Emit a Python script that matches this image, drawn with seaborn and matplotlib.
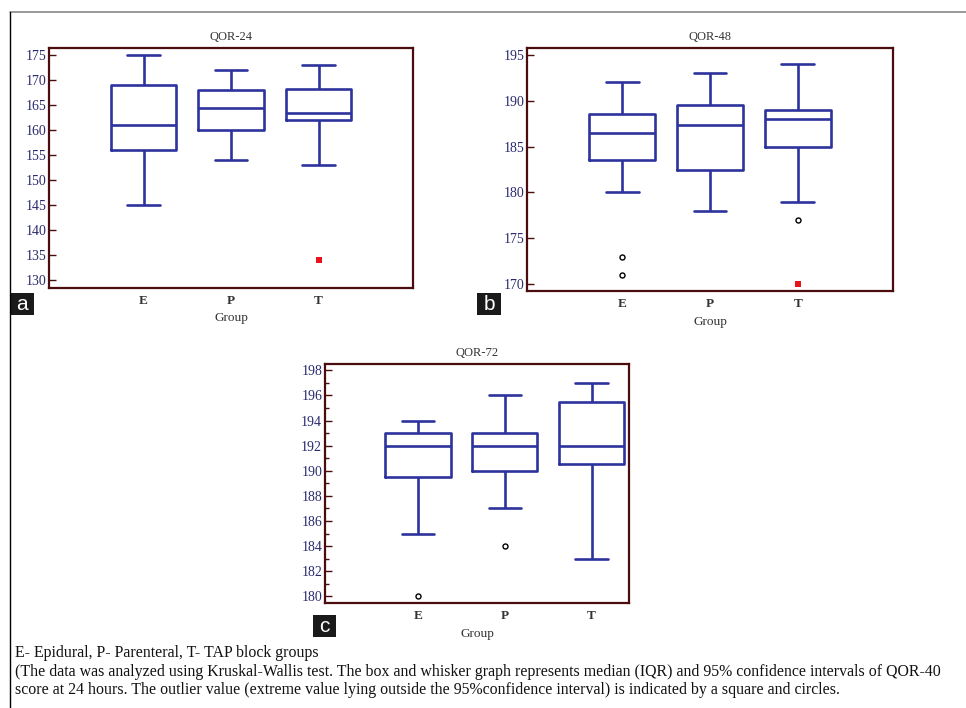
#!/usr/bin/env python3

# Box and whisker panels of QOR-40 scores at 24, 48 and 72 hours.
# Boxes show median (IQR), whiskers the 95% interval, extra marks the outliers.

import matplotlib
matplotlib.use("Agg") # Don't require X11.
import matplotlib.pyplot as plt
from matplotlib.lines import Line2D
from matplotlib.patches import Rectangle
from matplotlib.ticker import MultipleLocator
import pandas as pd
import seaborn as sns

groups = ["E", "P", "T"]

# QOR-24: lower whisker, Q1, median, Q3, upper whisker per group
qor24_lo  = [145, 154, 153]
qor24_q1  = [156, 160, 162]
qor24_med = [161, 164.5, 163.5]
qor24_q3  = [169, 168, 168.3]
qor24_hi  = [175, 172, 173]
qor24_out_group = ["T"]
qor24_out_value = [134]
qor24_out_kind  = ["square"]

# QOR-48
qor48_lo  = [180, 178, 179]
qor48_q1  = [183.5, 182.4, 185]
qor48_med = [186.5, 187.3, 188]
qor48_q3  = [188.5, 189.5, 189]
qor48_hi  = [192, 193, 194]
qor48_out_group = ["E", "E", "T", "T"]
qor48_out_value = [173, 171, 177, 170]
qor48_out_kind  = ["circle", "circle", "circle", "square"]

# QOR-72
qor72_lo  = [185, 187, 183]
qor72_q1  = [189.5, 190, 190.5]
qor72_med = [192, 192, 192]
qor72_q3  = [193, 193, 195.5]
qor72_hi  = [194, 196, 197]
qor72_out_group = ["E", "P"]
qor72_out_value = [180, 184]
qor72_out_kind  = ["circle", "circle"]

caption = [
    "E- Epidural, P- Parenteral, T- TAP block groups",
    "(The data was analyzed using Kruskal-Wallis test. The box and whisker graph "
    "represents median (IQR) and 95% confidence intervals of QOR-40",
    "score at 24 hours. The outlier value (extreme value lying outside the "
    "95%confidence interval) is indicated by a square and circles.",
]

W, H = 966, 708
BOX = "#2d339c"
FRAME = "#4a0c0c"
TICKTXT = "#2a2a6e"
TXT = "#333333"

sns.set_style("white")
plt.rcParams["font.family"] = ["Liberation Serif", "DejaVu Serif"]


def five_numbers(lo, q1, med, q3, hi):
    # With five values per group, linear percentiles land on exactly these
    # numbers, and whis=(0, 100) puts the whiskers on the extremes.
    rows = []
    for i, g in enumerate(groups):
        for v in (lo[i], q1[i], med[i], q3[i], hi[i]):
            rows.append({"Group": g, "Score": v})
    return pd.DataFrame(rows)


def px_axes(fig, left, top, right, bottom):
    return fig.add_axes([left / W, 1 - bottom / H, (right - left) / W, (bottom - top) / H])


def panel(ax, title, df, out_group, out_value, out_kind, ylim, major, minor=None):
    sns.boxplot(data=df, x="Group", y="Score", order=groups, whis=(0, 100),
                fill=False, color=BOX, linecolor=BOX, linewidth=1.9,
                width=0.75, showfliers=False, ax=ax)

    circ = [(groups.index(g), v) for g, v, k in zip(out_group, out_value, out_kind) if k == "circle"]
    sq = [(groups.index(g), v) for g, v, k in zip(out_group, out_value, out_kind) if k == "square"]
    if circ:
        sns.scatterplot(x=[c[0] for c in circ], y=[c[1] for c in circ], ax=ax,
                        marker="o", s=13, facecolor="white", edgecolor="black",
                        linewidth=1.0, zorder=5)
    if sq:
        sns.scatterplot(x=[c[0] for c in sq], y=[c[1] for c in sq], ax=ax,
                        marker="s", s=22, color="#e8141c", edgecolor="#e8141c",
                        linewidth=0, zorder=5)

    ax.set_xlim(-1.08, 3.08)
    ax.set_ylim(*ylim)
    ax.yaxis.set_major_locator(MultipleLocator(major))
    if minor:
        ax.yaxis.set_minor_locator(MultipleLocator(minor))
    ax.tick_params(axis="y", which="both", direction="in", left=True,
                   color=FRAME, width=1.0, labelsize=10, labelcolor=TICKTXT, pad=2)
    ax.tick_params(axis="y", which="major", length=5)
    ax.tick_params(axis="y", which="minor", length=3)
    ax.tick_params(axis="x", length=0, labelsize=9.5, labelcolor=TXT, pad=5)
    for t in ax.get_xticklabels():
        t.set_fontweight("bold")

    for sp in ax.spines.values():
        sp.set_visible(True)
        sp.set_color(FRAME)
        sp.set_linewidth(1.6)

    ax.set_title(title, fontsize=9, color=TXT, pad=6)
    ax.set_xlabel("Group", fontsize=9.5, color=TXT, labelpad=4)
    ax.set_ylabel("")


def tag(fig, letter, left, top, right, bottom):
    fig.add_artist(Rectangle((left / W, 1 - bottom / H), (right - left) / W, (bottom - top) / H,
                             transform=fig.transFigure, facecolor="#1a1a1a",
                             edgecolor="none"))
    fig.text((left + right) / 2 / W, 1 - (top + bottom) / 2 / H, letter,
             ha="center", va="center", color="white", fontsize=15,
             family=["Liberation Sans", "DejaVu Sans"])


fig = plt.figure(figsize=(W / 100, H / 100), dpi=100)

axA = px_axes(fig, 49, 48, 413, 288)
panel(axA, "QOR-24",
      five_numbers(qor24_lo, qor24_q1, qor24_med, qor24_q3, qor24_hi),
      qor24_out_group, qor24_out_value, qor24_out_kind,
      (128.5, 176.4), 5)

axB = px_axes(fig, 527, 48, 893, 291)
panel(axB, "QOR-48",
      five_numbers(qor48_lo, qor48_q1, qor48_med, qor48_q3, qor48_hi),
      qor48_out_group, qor48_out_value, qor48_out_kind,
      (169.27, 195.73), 5)

axC = px_axes(fig, 325, 364, 629, 603)
panel(axC, "QOR-72",
      five_numbers(qor72_lo, qor72_q1, qor72_med, qor72_q3, qor72_hi),
      qor72_out_group, qor72_out_value, qor72_out_kind,
      (179.47, 198.5), 2, minor=1)
axC.set_xlim(-1.07, 2.43)

tag(fig, "a", 10, 293, 34, 315)
tag(fig, "b", 477, 293, 501, 315)
tag(fig, "c", 313, 615, 336, 637)

# outer frame: grey rule along the top, black rule down the left side
fig.add_artist(Line2D([10 / W, 1], [1 - 12 / H, 1 - 12 / H], transform=fig.transFigure,
                      color="#888888", linewidth=1.2))
fig.add_artist(Line2D([10 / W, 10 / W], [1 - 12 / H, 0], transform=fig.transFigure,
                      color="black", linewidth=1.0))

for i, line in enumerate(caption):
    fig.text(15 / W, 1 - (653 + i * 18.5) / H, line, ha="left", va="center",
             fontsize=11.4, color="#111111")

plt.savefig("out.png", dpi=100)
plt.close()
